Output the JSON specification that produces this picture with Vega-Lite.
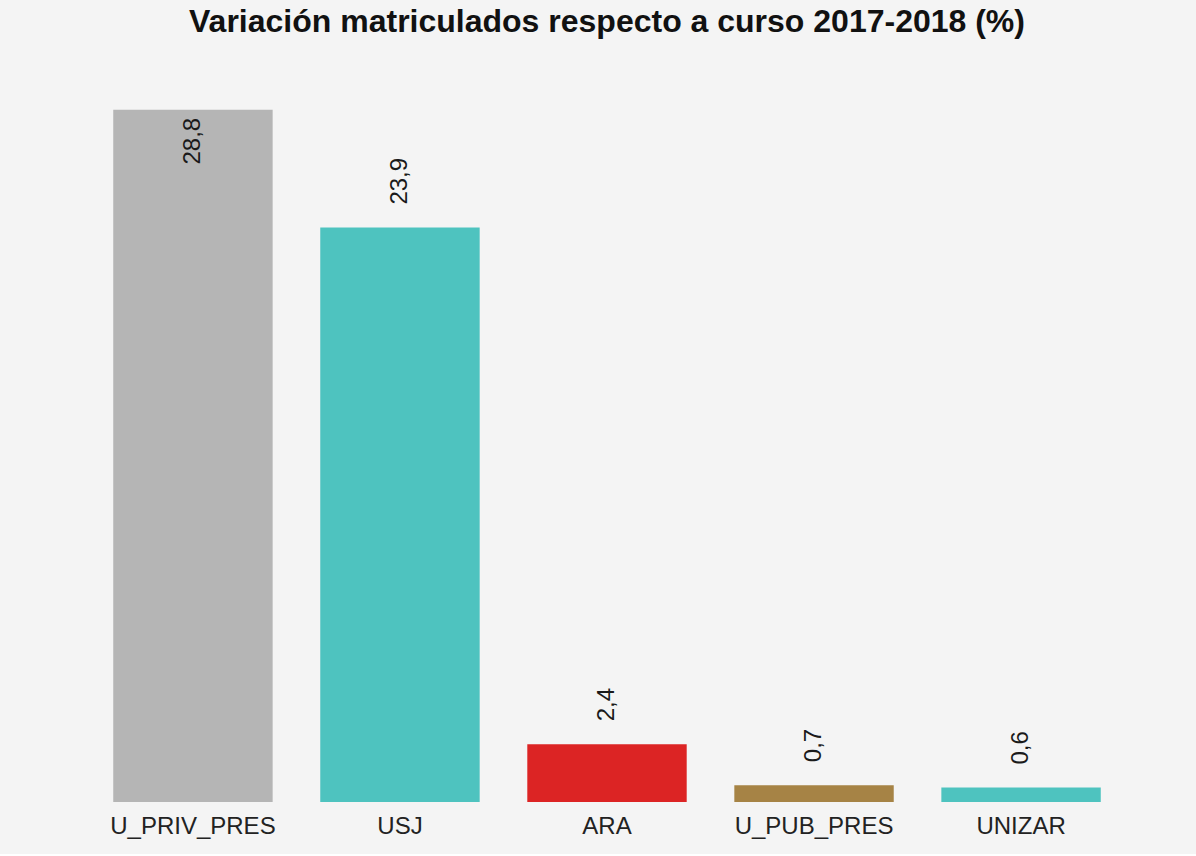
{
  "$schema": "https://vega.github.io/schema/vega-lite/v6.json",
  "width": 1178,
  "height": 721,
  "padding": {"left": 18, "top": 6, "right": 0, "bottom": 16},
  "background": "#f4f4f4",
  "title": {
    "text": "Variación matriculados respecto a curso 2017-2018 (%)",
    "font": "Liberation Sans",
    "fontSize": 32,
    "fontWeight": "bold",
    "color": "#111111",
    "anchor": "middle",
    "offset": 42
  },
  "config": {
    "view": {"stroke": null},
    "locale": {"number": {"decimal": ",", "thousands": ".", "grouping": [3], "currency": ["", " €"]}}
  },
  "data": {
    "values": [
      {"universidad": "U_PRIV_PRES", "variacion": 28.8},
      {"universidad": "USJ", "variacion": 23.9},
      {"universidad": "ARA", "variacion": 2.4},
      {"universidad": "U_PUB_PRES", "variacion": 0.7},
      {"universidad": "UNIZAR", "variacion": 0.6}
    ]
  },
  "encoding": {
    "x": {
      "field": "universidad",
      "type": "nominal",
      "sort": null,
      "scale": {"paddingInner": 0.23, "paddingOuter": 0.46},
      "axis": {
        "title": null,
        "labelAngle": 0,
        "labelFont": "Liberation Sans",
        "labelFontSize": 24,
        "labelColor": "#222222",
        "labelPadding": 12,
        "ticks": false,
        "domain": false,
        "grid": false
      }
    },
    "y": {
      "field": "variacion",
      "type": "quantitative",
      "scale": {"domain": [0, 30]},
      "axis": null
    }
  },
  "layer": [
    {
      "mark": {"type": "bar"},
      "encoding": {
        "color": {
          "field": "universidad",
          "type": "nominal",
          "scale": {
            "domain": ["U_PRIV_PRES", "USJ", "ARA", "U_PUB_PRES", "UNIZAR"],
            "range": ["#b5b5b5", "#4ec3bf", "#dc2424", "#a68345", "#4ec3bf"]
          },
          "legend": null
        }
      }
    },
    {
      "transform": [{"filter": "datum.variacion < 25"}],
      "mark": {"type": "text", "angle": 270, "align": "left", "baseline": "middle", "dx": 23, "font": "Liberation Sans", "fontSize": 24, "color": "#1a1a1a"},
      "encoding": {
        "text": {"field": "variacion", "type": "quantitative", "format": ".1f"}
      }
    },
    {
      "transform": [{"filter": "datum.variacion >= 25"}],
      "mark": {"type": "text", "angle": 270, "align": "right", "baseline": "middle", "dx": -8, "font": "Liberation Sans", "fontSize": 24, "color": "#1a1a1a"},
      "encoding": {
        "text": {"field": "variacion", "type": "quantitative", "format": ".1f"}
      }
    }
  ]
}
